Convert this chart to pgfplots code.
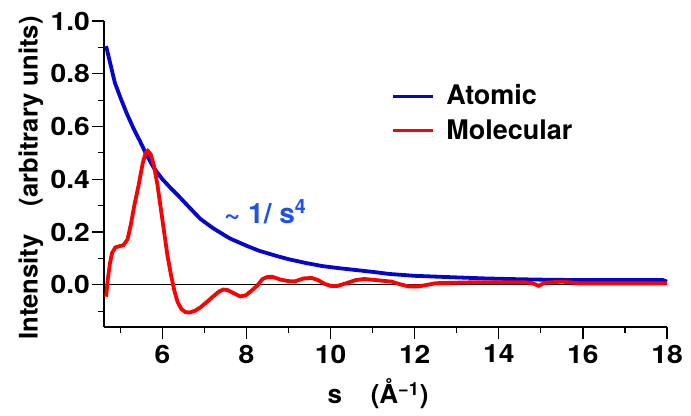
\documentclass[border=0pt]{standalone}
\usepackage{fontspec}
\setmainfont{TeX Gyre Heros}
\newfontfamily\tickfont{TeX Gyre Heros}[FakeStretch=1.12]
\usepackage{pgfplots}
\pgfplotsset{compat=1.18}
\usetikzlibrary{calc}
\definecolor{atomblue}{HTML}{0505CC}
\definecolor{molred}{HTML}{FF0000}
\definecolor{annblue}{HTML}{1E50F0}

\begin{document}
\begin{tikzpicture}
\begin{axis}[
    name=ax,
    scale only axis,
    width=281.5pt, height=153pt,
    xmin=4.61, xmax=18, ymin=-0.16, ymax=1.0,
    axis x line*=bottom, axis y line*=left,
    axis line style={line width=0.7pt, -},
    xtick={6,8,10,12,14,16,18}, minor xtick={5,7,9,11,13,15,17},
    ytick={0,0.2,0.4,0.6,0.8,1.0}, minor ytick={-0.1,0.1,0.3,0.5,0.7,0.9},
    tick align=outside,
    major tick length=6pt, minor tick length=3pt,
    tick style={line width=0.6pt, black},
    /pgf/number format/assume math mode=true,
    tick label style={font=\tickfont\bfseries\fontsize{12.6}{14}\selectfont},
    yticklabel style={xshift=2.5pt, /pgf/number format/.cd, fixed, fixed zerofill, precision=1},
    xticklabel style={yshift=0.5pt},
    xlabel={s\hspace{1.1em}(Å\textsuperscript{\char"2212 1})},
    ylabel={Intensity\hspace{1.1em}(arbitrary units)},
    xlabel style={font=\bfseries\fontsize{13}{15}\selectfont,
        at={(axis description cs:0.487,0)}, anchor=center, yshift=-33.5pt},
    ylabel style={font=\bfseries\fontsize{12.8}{15}\selectfont,
        at={(axis description cs:-0.13,0.487)}, anchor=center, rotate=0},
    legend style={draw=none, fill=none, at={(axis description cs:0.5,0.82)}, anchor=north west,
        font=\bfseries\fontsize{13.5}{15}\selectfont, row sep=2pt,
        cells={anchor=west}},
    legend image code/.code={\draw[#1, line width=1.5pt] (0pt,0pt) -- (20pt,0pt);
        \path (23.5pt,0pt);},
    clip=false,
]
\addplot[black, line width=0.5pt, forget plot] coordinates {(4.61,0) (18,0)};

\addplot[atomblue, line width=1.9pt] coordinates {
    (4.66,0.905)(4.75,0.845)(4.87,0.765)(5.0,0.710)(5.15,0.650)(5.3,0.597)
    (5.47,0.543)(5.63,0.490)(5.8,0.442)(6.0,0.400)(6.2,0.366)(6.4,0.334)
    (6.6,0.300)(6.9,0.250)(7.2,0.215)(7.6,0.176)(8.0,0.148)(8.3,0.129)
    (8.7,0.110)(9.0,0.097)(9.4,0.083)(9.8,0.071)(10.2,0.063)(10.6,0.056)
    (11.0,0.049)(11.4,0.041)(12.0,0.034)(12.5,0.031)(13.0,0.028)(13.7,0.024)
    (14.5,0.021)(15.2,0.019)(16.0,0.018)(17.0,0.018)(17.9,0.018)(18.0,0.012)
};
\addlegendentry{Atomic}

\addplot[molred, line width=1.9pt] coordinates {
    (4.66,-0.045)(4.70,0.02)(4.75,0.08)(4.80,0.12)(4.88,0.142)(4.97,0.146)
    (5.07,0.150)(5.17,0.172)(5.25,0.230)(5.33,0.300)(5.43,0.375)(5.53,0.460)
    (5.60,0.500)(5.65,0.508)(5.72,0.495)(5.80,0.450)(5.88,0.380)(5.96,0.290)
    (6.04,0.200)(6.12,0.110)(6.20,0.040)(6.28,-0.020)(6.36,-0.065)(6.45,-0.092)
    (6.55,-0.104)(6.65,-0.105)(6.78,-0.098)(6.90,-0.086)(7.05,-0.066)(7.20,-0.045)
    (7.35,-0.025)(7.45,-0.018)(7.55,-0.020)(7.70,-0.032)(7.85,-0.044)(7.98,-0.040)
    (8.12,-0.022)(8.25,-0.004)(8.38,0.022)(8.50,0.030)(8.62,0.030)(8.80,0.020)
    (9.00,0.014)(9.15,0.013)(9.35,0.024)(9.55,0.026)(9.70,0.018)(9.85,0.004)
    (10.0,-0.004)(10.15,-0.005)(10.35,0.005)(10.6,0.018)(10.8,0.022)(11.0,0.019)
    (11.2,0.016)(11.45,0.012)(11.65,0.002)(11.85,-0.006)(12.1,-0.006)(12.3,0.000)
    (12.5,0.006)(13.0,0.008)(13.5,0.010)(14.0,0.010)(14.6,0.010)(14.8,0.006)
    (14.95,-0.004)(15.1,0.008)(15.5,0.012)(15.9,0.006)(16.5,0.006)(17.0,0.006)
    (18.0,0.006)
};
\addlegendentry{Molecular}

\node[text=annblue, font=\bfseries\fontsize{14}{16}\selectfont, anchor=center]
    at (axis cs:8.45,0.277) {\textasciitilde\ 1/ s\textsuperscript{4}};
\end{axis}
\path ($(ax.south west)+(-52pt,-41pt)$) rectangle ($(ax.north east)+(12pt,10.5pt)$);
\end{tikzpicture}
\end{document}
